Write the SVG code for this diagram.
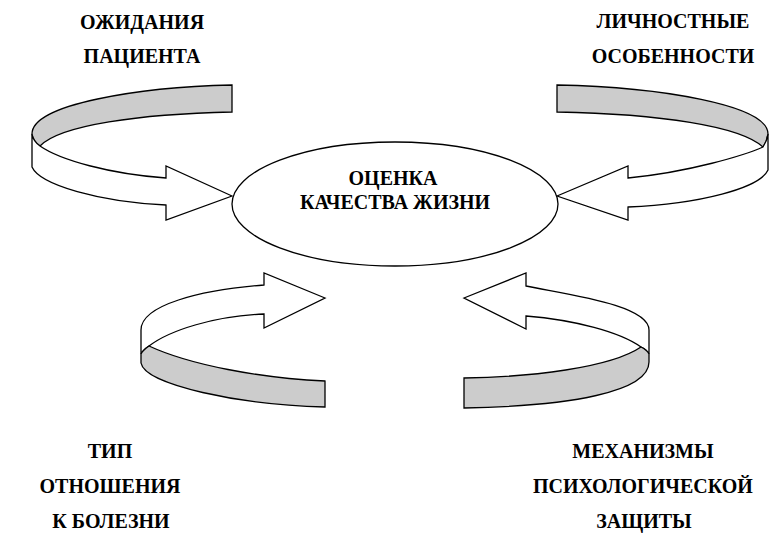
<svg xmlns="http://www.w3.org/2000/svg" width="770" height="535" viewBox="0 0 770 535">
<style>
text{font-family:'Liberation Serif','Times New Roman',serif;font-weight:700;font-size:20px;fill:#000;text-anchor:middle}
.w{fill:#fff;stroke:#000;stroke-width:1.3;stroke-linejoin:miter}
.g{fill:#cccccc;stroke:#000;stroke-width:1.3;stroke-linejoin:miter}
</style>
<rect width="770" height="535" fill="#fff"/>
<g id="connectors">
  <g id="arrow-top-left">
    <path class="g" d="M232,85 C140,87 32,104 32,134 Q33,141 40,146 C60,125 140,114 232,112 Z"/>
    <path class="w" d="M232,196 L166,166 L166,178 C110,174 60,160 40,146 Q33,141 32,134 L32,167 C40,185 100,202 166,205 L166,220 Z"/>
  </g>
  <g id="arrow-top-right">
    <path class="g" d="M557,85 C660,87 768,105 768,134 Q767,141 763,147 C740,126 660,114 557,112 Z"/>
    <path class="w" d="M557,196 L628,166 L628,178 C690,172 745,155 763,147 Q767,141 768,134 L768,170 C760,188 700,204 628,207 L628,220 Z"/>
  </g>
  <g id="arrow-bottom-left">
    <path class="w" d="M325,298 L264,273 L264,285 C200,290 141,305 141,330 L141,354 Q143,350 149,346 C170,330 215,316 264,314 L264,328 Z"/>
    <path class="g" d="M149,346 C190,365 260,378 325,381 L325,407 C240,405 145,385 141,363 L141,354 Q143,350 149,346 Z"/>
  </g>
  <g id="arrow-bottom-right">
    <path class="w" d="M464,298 L526,273 L526,286 C570,295 649,305 649,330 L649,354 Q647,350 641,347 C620,332 575,320 526,316 L526,329 Z"/>
    <path class="g" d="M641,347 C610,368 530,377 464,378 L464,408 C570,406 649,392 649,362 L649,354 Q647,350 641,347 Z"/>
  </g>
</g>
<g id="node-center">
  <ellipse cx="395" cy="204" rx="163" ry="62" fill="#fff" stroke="#000" stroke-width="1.3"/>
  <text x="393" y="185">ОЦЕНКА</text>
  <text x="395" y="209">КАЧЕСТВА ЖИЗНИ</text>
</g>
<g id="node-expectations">
  <text x="142" y="29">ОЖИДАНИЯ</text>
  <text x="142" y="63">ПАЦИЕНТА</text>
</g>
<g id="node-personality">
  <text x="673" y="28">ЛИЧНОСТНЫЕ</text>
  <text x="673" y="63">ОСОБЕННОСТИ</text>
</g>
<g id="node-attitude">
  <text x="110" y="458">ТИП</text>
  <text x="110" y="493">ОТНОШЕНИЯ</text>
  <text x="111" y="528">К БОЛЕЗНИ</text>
</g>
<g id="node-defense">
  <text x="643" y="458">МЕХАНИЗМЫ</text>
  <text x="643" y="493">ПСИХОЛОГИЧЕСКОЙ</text>
  <text x="644" y="528">ЗАЩИТЫ</text>
</g>
</svg>
